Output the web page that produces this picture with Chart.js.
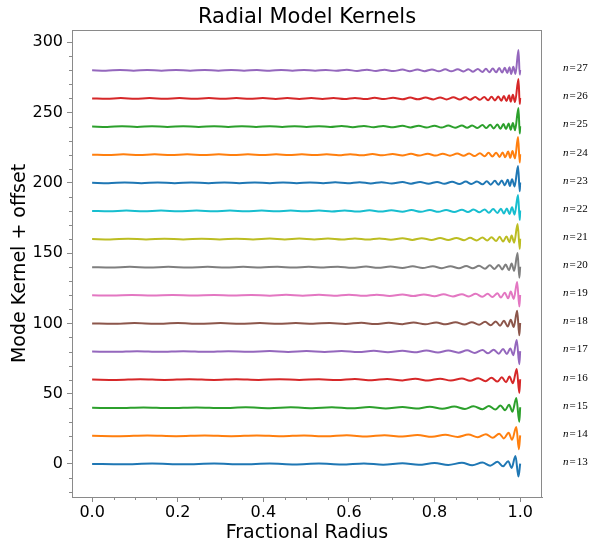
<!DOCTYPE html>
<html><head><meta charset="utf-8">
<script src="https://cdn.jsdelivr.net/npm/chart.js@4.4.0/dist/chart.umd.min.js"></script>
<style>html,body{margin:0;padding:0;background:#fff}canvas{display:block}</style>
</head><body>
<canvas id="c" width="591" height="546"></canvas>
<script>
const modes = [13,14,15,16,17,18,19,20,21,22,23,24,25,26,27];
const offsets = [0,20,40,60,80,100,120,140,160,180,200,220,240,260,280];
const colors = ['#1f77b4','#ff7f0e','#2ca02c','#d62728','#9467bd','#8c564b','#e377c2','#7f7f7f','#bcbd22','#17becf','#1f77b4','#ff7f0e','#2ca02c','#d62728','#9467bd'];
const xTicks = [0,0.2,0.4,0.6,0.8,1.0];
const yTicks = [0,50,100,150,200,250,300];

const r13 = [0,0.07,0.14,0.213,0.285,0.35,0.415,0.473,0.53,0.583,0.635,0.68,0.725,0.763,0.80,0.832,0.864,0.888,0.912,0.930,0.947,0.960,0.972,0.980,0.989,0.996,1.0];
const k13 = [0,-0.25,0.25,-0.25,0.25,-0.25,0.3,-0.3,0.3,-0.35,0.4,-0.5,0.55,-0.6,0.7,-0.75,0.85,-0.9,1.1,-1.2,1.5,-1.7,2.0,-2.8,5.7,-9,0.3];
const r14 = [0,0.065,0.129,0.196,0.263,0.325,0.385,0.442,0.495,0.546,0.595,0.642,0.683,0.725,0.760,0.794,0.825,0.854,0.879,0.901,0.920,0.936,0.951,0.962,0.973,0.981,0.991,0.997,1.0];
const k14 = [0,-0.25,0.25,-0.25,0.25,-0.25,0.3,-0.3,0.3,-0.35,0.4,-0.45,0.5,-0.55,0.6,-0.7,0.75,-0.8,0.9,-1.0,1.2,-1.3,1.5,-1.8,2.2,-2.8,6.3,-9.5,0.3];
const r15 = [0,0.060,0.120,0.181,0.244,0.304,0.359,0.415,0.464,0.514,0.560,0.605,0.648,0.686,0.725,0.757,0.789,0.818,0.846,0.871,0.891,0.912,0.927,0.942,0.954,0.965,0.974,0.982,0.991,0.998,1.0];
const k15 = [0,-0.25,0.25,-0.25,0.25,-0.25,0.3,-0.3,0.3,-0.35,0.35,-0.4,0.45,-0.5,0.55,-0.6,0.65,-0.75,0.8,-0.85,1.0,-1.0,1.2,-1.3,1.6,-1.8,2.2,-2.8,7.0,-10,0.3];
const r16 = [0,0.056,0.112,0.169,0.227,0.285,0.337,0.389,0.438,0.484,0.53,0.572,0.614,0.653,0.689,0.725,0.755,0.785,0.813,0.838,0.864,0.883,0.902,0.919,0.933,0.947,0.957,0.967,0.975,0.983,0.992,0.998,1.0];
const k16 = [0,-0.25,0.25,-0.25,0.25,-0.25,0.25,-0.25,0.3,-0.3,0.3,-0.35,0.4,-0.45,0.45,-0.55,0.6,-0.65,0.7,-0.7,0.8,-0.85,1.0,-1.1,1.3,-1.4,1.6,-1.8,2.2,-2.6,7.6,-9.5,0.3];
const r17 = [0,0.053,0.105,0.158,0.213,0.267,0.318,0.366,0.415,0.458,0.501,0.543,0.583,0.622,0.658,0.691,0.725,0.753,0.781,0.808,0.832,0.856,0.876,0.894,0.912,0.925,0.938,0.950,0.960,0.969,0.977,0.984,0.992,0.998,1.0];
const k17 = [0,-0.25,0.25,-0.25,0.25,-0.25,0.25,-0.25,0.3,-0.3,0.3,-0.3,0.35,-0.4,0.45,-0.45,0.55,-0.6,0.65,-0.65,0.7,-0.8,0.85,-1.0,1.1,-1.3,1.3,-1.6,1.8,-1.8,2.2,-2.6,8.2,-9,0.3];
const r18 = [0,0.049,0.099,0.149,0.200,0.251,0.300,0.346,0.392,0.435,0.476,0.516,0.555,0.592,0.629,0.661,0.693,0.725,0.751,0.778,0.804,0.826,0.849,0.870,0.887,0.904,0.918,0.931,0.943,0.953,0.962,0.971,0.978,0.985,0.993,0.998,1.0];
const k18 = [0,-0.25,0.25,-0.25,0.25,-0.25,0.25,-0.25,0.25,-0.3,0.3,-0.3,0.35,-0.35,0.4,-0.45,0.45,-0.55,0.6,-0.6,0.65,-0.7,0.8,-0.85,0.85,-1.0,1.1,-1.3,1.4,-1.6,1.8,-2.2,2.6,-2.6,8.9,-8.5,0.3];
const r19 = [0,0.047,0.093,0.14,0.188,0.237,0.285,0.328,0.372,0.415,0.453,0.492,0.53,0.565,0.60,0.635,0.665,0.695,0.725,0.75,0.775,0.80,0.821,0.843,0.864,0.880,0.896,0.912,0.924,0.935,0.947,0.955,0.964,0.972,0.978,0.985,0.993,0.998,1.0];
const k19 = [0,-0.25,0.25,-0.25,0.25,-0.25,0.25,-0.25,0.25,-0.3,0.3,-0.3,0.3,-0.35,0.4,-0.4,0.45,-0.45,0.55,-0.6,0.6,-0.65,0.7,-0.8,0.8,-0.85,1.0,-1.1,1.1,-1.3,1.4,-1.6,1.8,-2.2,2.6,-2.6,9.5,-8,0.3];
const r20 = [0,0.044,0.088,0.133,0.178,0.224,0.270,0.312,0.353,0.394,0.433,0.470,0.506,0.541,0.574,0.607,0.640,0.668,0.697,0.725,0.749,0.772,0.796,0.817,0.837,0.857,0.874,0.889,0.904,0.918,0.929,0.940,0.950,0.958,0.966,0.974,0.980,0.986,0.994,0.998,1.0];
const k20 = [0,-0.25,0.25,-0.25,0.25,-0.25,0.25,-0.25,0.25,-0.25,0.3,-0.3,0.3,-0.3,0.35,-0.4,0.4,-0.45,0.45,-0.55,0.6,-0.6,0.65,-0.7,0.7,-0.8,0.85,-0.85,1.0,-1.1,1.3,-1.3,1.6,-1.6,1.8,-2.2,2.6,-2.6,10.1,-7.5,0.3];
const r21 = [0,0.042,0.084,0.126,0.169,0.213,0.256,0.298,0.337,0.376,0.415,0.450,0.484,0.519,0.551,0.583,0.614,0.644,0.671,0.698,0.725,0.748,0.770,0.793,0.813,0.832,0.851,0.869,0.883,0.898,0.912,0.923,0.933,0.944,0.952,0.960,0.968,0.975,0.980,0.986,0.994,0.999,1.0];
const k21 = [0,-0.25,0.25,-0.25,0.25,-0.25,0.25,-0.25,0.25,-0.25,0.3,-0.3,0.3,-0.3,0.35,-0.35,0.4,-0.4,0.45,-0.45,0.55,-0.6,0.6,-0.65,0.7,-0.7,0.8,-0.8,0.85,-1.0,1.1,-1.1,1.3,-1.4,1.6,-1.8,1.8,-2.2,2.6,-2.6,10.7,-7,0.3];
const r22 = [0,0.040,0.080,0.120,0.161,0.202,0.244,0.285,0.322,0.359,0.396,0.431,0.464,0.497,0.530,0.560,0.590,0.620,0.648,0.674,0.699,0.725,0.746,0.768,0.789,0.809,0.827,0.846,0.864,0.878,0.891,0.905,0.917,0.927,0.937,0.947,0.955,0.962,0.969,0.975,0.981,0.987,0.995,0.999,1.0];
const k22 = [0,-0.25,0.25,-0.25,0.25,-0.25,0.25,-0.25,0.25,-0.25,0.25,-0.3,0.3,-0.3,0.3,-0.35,0.35,-0.4,0.4,-0.45,0.45,-0.55,0.6,-0.6,0.65,-0.65,0.7,-0.8,0.8,-0.85,1.0,-1.0,1.1,-1.3,1.3,-1.4,1.6,-1.8,1.8,-2.2,2.6,-2.6,11.4,-6.5,0.3];
const r23 = [0,0.038,0.076,0.115,0.153,0.193,0.232,0.272,0.309,0.344,0.380,0.415,0.446,0.478,0.509,0.540,0.568,0.597,0.625,0.651,0.676,0.700,0.725,0.745,0.766,0.786,0.806,0.823,0.841,0.858,0.873,0.886,0.899,0.912,0.922,0.931,0.941,0.949,0.957,0.964,0.971,0.976,0.981,0.987,0.995,0.999,1.0];
const k23 = [0,-0.25,0.25,-0.25,0.25,-0.25,0.25,-0.25,0.25,-0.25,0.25,-0.3,0.3,-0.3,0.3,-0.3,0.35,-0.35,0.4,-0.45,0.45,-0.55,0.55,-0.6,0.6,-0.65,0.65,-0.7,0.8,-0.8,0.85,-0.85,1.0,-1.1,1.1,-1.3,1.4,-1.4,1.6,-1.8,2.2,-2.2,2.6,-2.6,12.0,-6,0.3];
const r24 = [0,0.037,0.073,0.110,0.146,0.184,0.222,0.260,0.296,0.330,0.364,0.398,0.430,0.460,0.490,0.520,0.548,0.576,0.603,0.630,0.655,0.678,0.702,0.725,0.745,0.764,0.784,0.803,0.819,0.836,0.853,0.868,0.881,0.893,0.906,0.917,0.926,0.935,0.944,0.952,0.959,0.965,0.972,0.977,0.982,0.988,0.995,0.999,1.0];
const k24 = [0,-0.25,0.25,-0.25,0.25,-0.25,0.25,-0.25,0.25,-0.25,0.25,-0.25,0.3,-0.3,0.3,-0.3,0.3,-0.35,0.4,-0.4,0.45,-0.45,0.55,-0.55,0.6,-0.6,0.65,-0.65,0.7,-0.7,0.8,-0.8,0.85,-1.0,1.0,-1.1,1.3,-1.3,1.4,-1.6,1.6,-1.8,2.2,-2.2,2.6,-2.6,12.6,-5.5,0.3];
const r25 = [0,0.035,0.070,0.105,0.14,0.176,0.213,0.249,0.285,0.318,0.35,0.383,0.415,0.444,0.473,0.501,0.53,0.556,0.583,0.609,0.635,0.658,0.68,0.703,0.725,0.744,0.763,0.781,0.80,0.816,0.832,0.848,0.864,0.876,0.888,0.90,0.912,0.921,0.930,0.938,0.947,0.954,0.961,0.967,0.973,0.978,0.983,0.988,0.996,0.999,1.0];
const k25 = [0,-0.25,0.25,-0.25,0.25,-0.25,0.25,-0.25,0.25,-0.25,0.25,-0.25,0.3,-0.3,0.3,-0.3,0.3,-0.35,0.35,-0.4,0.4,-0.45,0.45,-0.55,0.55,-0.6,0.6,-0.65,0.65,-0.7,0.7,-0.8,0.8,-0.85,0.85,-1.0,1.1,-1.1,1.3,-1.3,1.4,-1.6,1.8,-1.8,2.2,-2.2,2.6,-2.6,13.3,-5,0.3];
const r26 = [0,0.034,0.067,0.101,0.134,0.169,0.204,0.239,0.273,0.306,0.337,0.368,0.399,0.429,0.456,0.484,0.512,0.538,0.564,0.589,0.614,0.639,0.660,0.682,0.703,0.725,0.743,0.761,0.779,0.797,0.813,0.828,0.844,0.859,0.872,0.883,0.895,0.906,0.916,0.925,0.933,0.941,0.949,0.956,0.962,0.968,0.974,0.978,0.983,0.988,0.996,0.999,1.0];
const k26 = [0,-0.25,0.25,-0.25,0.25,-0.25,0.25,-0.25,0.25,-0.25,0.25,-0.25,0.25,-0.3,0.3,-0.3,0.3,-0.3,0.35,-0.35,0.4,-0.4,0.45,-0.45,0.55,-0.55,0.6,-0.6,0.6,-0.65,0.7,-0.7,0.8,-0.8,0.85,-0.85,1.0,-1.0,1.1,-1.3,1.3,-1.4,1.4,-1.6,1.8,-1.8,2.2,-2.2,2.6,-2.6,13.9,-4,0.3];
const r27 = [0,0.032,0.065,0.097,0.129,0.162,0.196,0.229,0.263,0.295,0.325,0.355,0.385,0.415,0.442,0.468,0.495,0.521,0.546,0.570,0.595,0.619,0.642,0.663,0.683,0.704,0.725,0.742,0.760,0.777,0.794,0.810,0.825,0.839,0.854,0.868,0.879,0.890,0.901,0.912,0.920,0.928,0.936,0.944,0.951,0.958,0.964,0.970,0.975,0.979,0.984,0.989,0.996,0.999,1.0];
const k27 = [0,-0.25,0.25,-0.25,0.25,-0.25,0.25,-0.25,0.25,-0.25,0.25,-0.25,0.25,-0.3,0.3,-0.3,0.3,-0.3,0.3,-0.35,0.35,-0.4,0.4,-0.45,0.45,-0.55,0.55,-0.6,0.6,-0.6,0.65,-0.7,0.7,-0.7,0.8,-0.8,0.85,-1.0,1.0,-1.1,1.1,-1.3,1.3,-1.4,1.6,-1.6,1.8,-1.8,2.2,-2.6,2.6,-2.6,14.5,-3,0.3];

const radii = [r13,r14,r15,r16,r17,r18,r19,r20,r21,r22,r23,r24,r25,r26,r27];
const kernels = [k13,k14,k15,k16,k17,k18,k19,k20,k21,k22,k23,k24,k25,k26,k27];

const SPINE = '#8a8a8a';
const FONT = "'DejaVu Sans', sans-serif";

const datasets = modes.map((n, i) => {
  const len = Math.min(radii[i].length, kernels[i].length);
  const pts = [];
  for (let j = 0; j < len; j++) pts.push({x: radii[i][j], y: kernels[i][j] + offsets[i]});
  return {
    label: 'n=' + n,
    data: pts,
    borderColor: colors[i],
    backgroundColor: colors[i],
    borderWidth: 2,
    pointRadius: 0,
    fill: false,
    cubicInterpolationMode: 'monotone',
    order: -n
  };
});

const deco = {
  id: 'deco',
  afterDraw(chart) {
    const ctx = chart.ctx, ca = chart.chartArea, xs = chart.scales.x, ys = chart.scales.y;
    ctx.save();
    ctx.strokeStyle = SPINE;
    ctx.lineWidth = 1;
    ctx.strokeRect(Math.round(ca.left) + 0.5, Math.round(ca.top) + 0.5, Math.round(ca.right - ca.left) - 1, Math.round(ca.bottom - ca.top));
    ctx.beginPath();
    for (let i = -1; i <= 21; i++) {
      if (i % 4 === 0) continue;
      const px = Math.round(xs.getPixelForValue(i * 0.05)) + 0.5;
      if (px <= ca.left || px >= ca.right) continue;
      ctx.moveTo(px, ca.bottom); ctx.lineTo(px, ca.bottom + 3);
    }
    for (let v = -20; v <= 300; v += 10) {
      if (v % 50 === 0) continue;
      const py = Math.round(ys.getPixelForValue(v)) + 0.5;
      if (py <= ca.top || py >= ca.bottom) continue;
      ctx.moveTo(ca.left, py); ctx.lineTo(ca.left - 3, py);
    }
    ctx.stroke();
    ctx.fillStyle = '#000';
    ctx.textAlign = 'center';
    ctx.textBaseline = 'middle';
    ctx.font = '21px ' + FONT;
    ctx.fillText('Radial Model Kernels', (ca.left + ca.right) / 2, 18);
    ctx.font = '19px ' + FONT;
    ctx.fillText('Fractional Radius', (ca.left + ca.right) / 2, 533);
    ctx.save();
    ctx.translate(20, (ca.top + ca.bottom) / 2);
    ctx.rotate(-Math.PI / 2);
    ctx.fillText('Mode Kernel + offset', 0, 0);
    ctx.restore();
    ctx.textAlign = 'left';
    modes.forEach((n, i) => {
      const y = ys.getPixelForValue(offsets[i]) - 2;
      let x = ca.right + 21;
      ctx.font = 'italic 11px "Liberation Serif", serif';
      ctx.fillText('n', x, y);
      x += ctx.measureText('n').width + 1;
      ctx.font = '11px "Liberation Serif", serif';
      ctx.fillText('=', x, y);
      x += ctx.measureText('=').width + 1;
      ctx.fillText(String(n), x, y);
    });
    ctx.restore();
  }
};

new Chart(document.getElementById('c'), {
  type: 'line',
  data: {datasets},
  options: {
    responsive: false,
    animation: false,
    devicePixelRatio: 1,
    layout: {padding: {top: 30, right: 49, left: 0, bottom: 0}},
    plugins: {legend: {display: false}, tooltip: {enabled: false}, title: {display: false}},
    scales: {
      x: {
        type: 'linear', min: -0.047, max: 1.051,
        afterBuildTicks: s => { s.ticks = xTicks.map(v => ({value: v})); },
        afterFit: s => { s.height = 49; },
        ticks: {font: {family: FONT, size: 16}, color: '#000', padding: 1, maxRotation: 0, callback: v => Number(v).toFixed(1)},
        grid: {display: true, drawOnChartArea: false, drawTicks: true, tickLength: 5, color: SPINE},
        border: {display: true, color: SPINE}
      },
      y: {
        type: 'linear', min: -23.5, max: 308.7,
        afterBuildTicks: s => { s.ticks = yTicks.map(v => ({value: v})); },
        afterFit: s => { s.width = 72; },
        ticks: {font: {family: FONT, size: 16}, color: '#000', padding: 4, callback: v => String(v)},
        grid: {display: true, drawOnChartArea: false, drawTicks: true, tickLength: 5, color: SPINE},
        border: {display: true, color: SPINE}
      }
    }
  },
  plugins: [deco]
});
</script>
</body></html>
